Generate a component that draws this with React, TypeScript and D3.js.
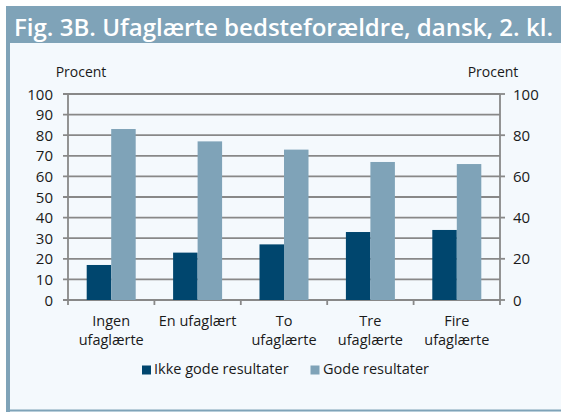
import React from "react";
import * as d3 from "d3";

const categories: string[][] = [
  ["Ingen", "ufaglærte"],
  ["En ufaglært"],
  ["To", "ufaglærte"],
  ["Tre", "ufaglærte"],
  ["Fire", "ufaglærte"],
];
const ikkeGode: number[] = [17, 23, 27, 33, 34];
const gode: number[] = [83, 77, 73, 67, 66];
const leftTicks: number[] = [0, 10, 20, 30, 40, 50, 60, 70, 80, 90, 100];
const rightTicks: number[] = [0, 20, 40, 60, 80, 100];
const seriesNames: string[] = ["Ikke gode resultater", "Gode resultater"];
const title = "Fig. 3B. Ufaglærte bedsteforældre, dansk, 2. kl.";

const W = 561;
const H = 412;
const DARK = "#00466e";
const LIGHT = "#7fa3b8";
const FRAME = "#7fa3b8";
const BG = "#f4f9fd";
const GRID = "#888888";
const FONT = "'Open Sans', 'Noto Sans', sans-serif";

export default function App() {
  const x0 = 68;
  const x1 = 500;
  const y = d3.scaleLinear().domain([0, 100]).range([300, 94]);
  const xb = d3
    .scaleBand<number>()
    .domain(categories.map((_, i) => i))
    .range([x0, x1])
    .paddingInner(0)
    .paddingOuter(0);
  const bw = 24.5;
  const seriesData = [ikkeGode, gode];
  const colors = [DARK, LIGHT];

  return (
    <svg
      width={W}
      height={H}
      style={{ position: "absolute", left: 0, top: 0 }}
      fontFamily={FONT}
    >
      <rect x={6} y={6} width={W - 6} height={H - 6} fill={BG} />
      <rect x={6} y={6} width={W - 6} height={37} fill={FRAME} />
      <rect x={6} y={6} width={4} height={H - 6} fill={FRAME} />
      <rect x={6} y={409.5} width={W - 6} height={2} fill={FRAME} />
      <text
        x={14}
        y={36}
        fill="#ffffff"
        fontSize={22.5}
        fontWeight={600}
        textLength={539}
        lengthAdjust="spacingAndGlyphs"
      >
        {title}
      </text>

      {leftTicks.map((t) => (
        <line
          key={"g" + t}
          x1={x0 - 5}
          x2={x1}
          y1={y(t)}
          y2={y(t)}
          stroke={GRID}
          strokeWidth={1.8}
        />
      ))}
      {rightTicks.map((t) => (
        <line
          key={"rt" + t}
          x1={x1}
          x2={x1 + 5}
          y1={y(t)}
          y2={y(t)}
          stroke={GRID}
          strokeWidth={1.8}
        />
      ))}
      <line x1={x0} x2={x0} y1={y(100)} y2={y(0)} stroke={GRID} strokeWidth={1.8} />
      <line x1={x1} x2={x1} y1={y(100)} y2={y(0) + 5} stroke={GRID} strokeWidth={1.8} />
      {categories.map((_, i) => (
        <line
          key={"ct" + i}
          x1={xb(i) as number}
          x2={xb(i) as number}
          y1={y(0)}
          y2={y(0) + 5}
          stroke={GRID}
          strokeWidth={1.8}
        />
      ))}

      {seriesData.map((vals, s) =>
        vals.map((v, i) => {
          const cx = (xb(i) as number) + xb.bandwidth() / 2;
          const bx = cx - bw + s * bw;
          return (
            <rect
              key={"b" + s + "-" + i}
              x={bx}
              y={y(v)}
              width={bw}
              height={y(0) - y(v)}
              fill={colors[s]}
            />
          );
        })
      )}

      {leftTicks.map((t) => (
        <text
          key={"lt" + t}
          x={53}
          y={y(t) + 5.5}
          textAnchor="end"
          fontSize={15}
          fill="#1a1a1a"
        >
          {t}
        </text>
      ))}
      {rightTicks.map((t) => (
        <text
          key={"rl" + t}
          x={513}
          y={y(t) + 5.5}
          textAnchor="start"
          fontSize={15}
          fill="#1a1a1a"
        >
          {t}
        </text>
      ))}
      <text x={81} y={77} textAnchor="middle" fontSize={14} fill="#1a1a1a">
        Procent
      </text>
      <text x={493} y={77} textAnchor="middle" fontSize={14} fill="#1a1a1a">
        Procent
      </text>

      {categories.map((lines, i) => {
        const cx = (xb(i) as number) + xb.bandwidth() / 2;
        return (
          <text key={"cl" + i} textAnchor="middle" fontSize={14.5} fill="#1a1a1a">
            {lines.map((l, k) => (
              <tspan key={k} x={cx} y={326 + k * 19}>
                {l}
              </tspan>
            ))}
          </text>
        );
      })}

      <rect x={142} y={365.5} width={9} height={9} fill={DARK} />
      <text x={154} y={374} fontSize={14.5} fill="#1a1a1a">
        {seriesNames[0]}
      </text>
      <rect x={310.5} y={365.5} width={9} height={9} fill={LIGHT} />
      <text x={323} y={374} fontSize={14.5} fill="#1a1a1a">
        {seriesNames[1]}
      </text>
    </svg>
  );
}
